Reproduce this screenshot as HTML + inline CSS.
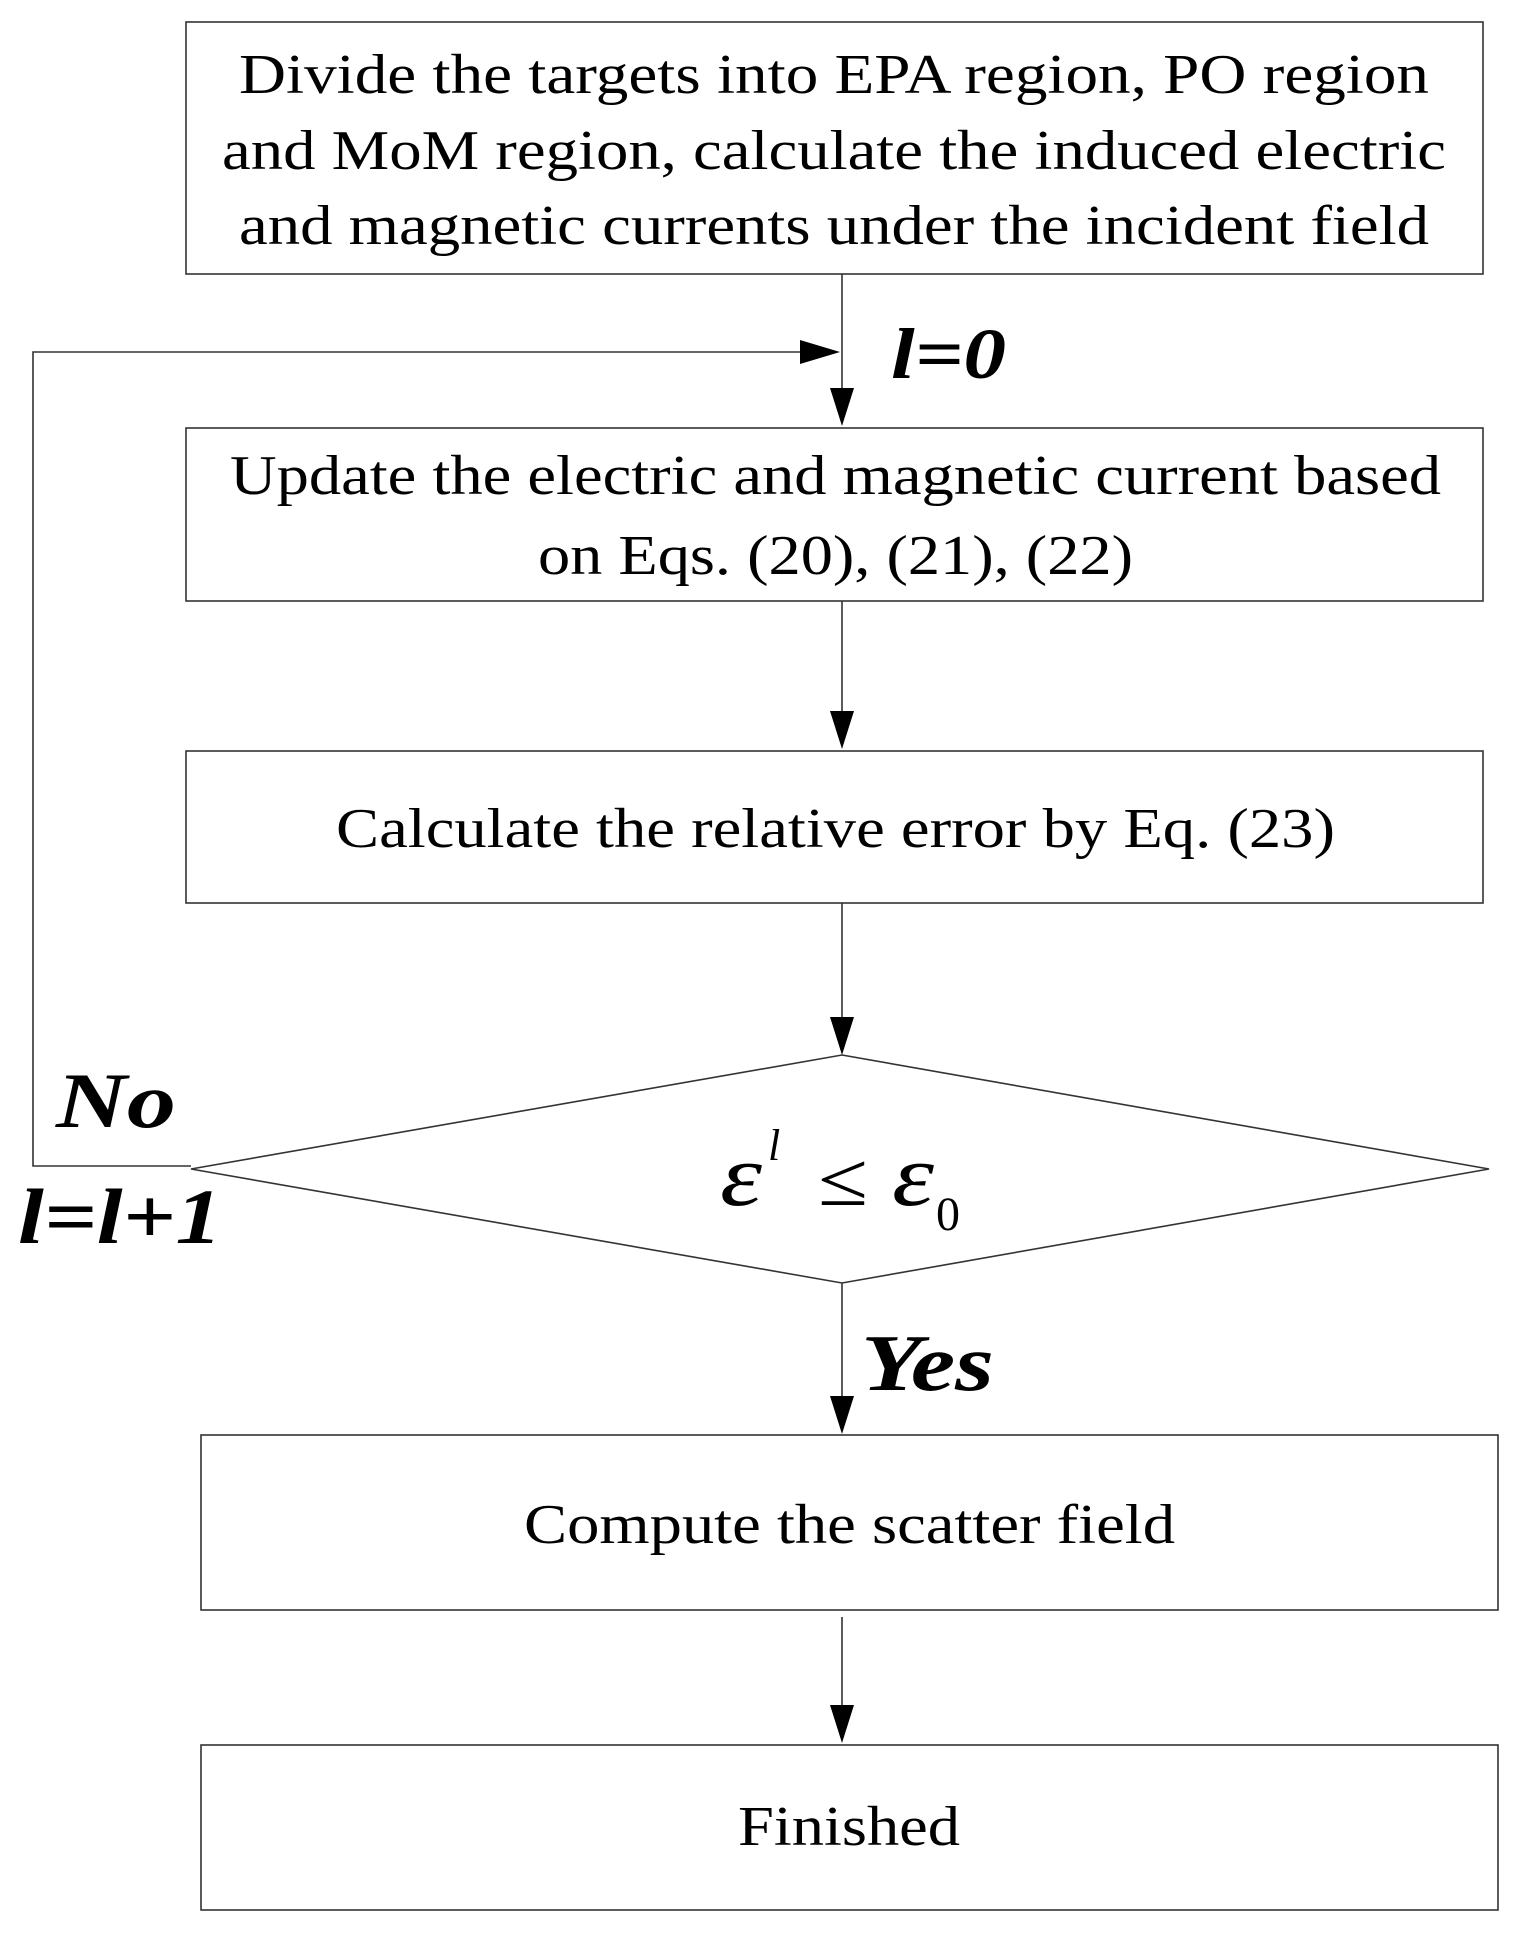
<!DOCTYPE html>
<html><head><meta charset="utf-8"><style>
html,body{margin:0;padding:0;background:#fff;}
svg{display:block;}
text{font-family:"Liberation Serif","DejaVu Serif",serif;fill:#000;}
</style></head><body>
<svg width="1530" height="1941" viewBox="0 0 1530 1941" xmlns="http://www.w3.org/2000/svg">
<g fill="none" stroke="#333" stroke-width="1.6">
<rect x="186" y="22" width="1297" height="252"/>
<rect x="186" y="428" width="1297" height="173"/>
<rect x="186" y="751" width="1297" height="152"/>
<rect x="201" y="1435" width="1297" height="175"/>
<rect x="201" y="1745" width="1297" height="165"/>
<polygon points="842,1055 1489,1169 842,1283 191,1169"/>
<line x1="842" y1="274" x2="842" y2="390"/>
<line x1="842" y1="601" x2="842" y2="712"/>
<line x1="842" y1="903" x2="842" y2="1018"/>
<line x1="842" y1="1283" x2="842" y2="1398"/>
<line x1="842" y1="1617" x2="842" y2="1706"/>
<polyline points="191,1166 33,1166 33,352 800,352"/>
</g>
<g fill="#000">
<polygon points="842,426 830,388 854,388"/>
<polygon points="842,749 830,711 854,711"/>
<polygon points="842,1055 830,1017 854,1017"/>
<polygon points="842,1434 830,1396 854,1396"/>
<polygon points="842,1743 830,1705 854,1705"/>
<polygon points="840,352 800,340 800,364"/>
</g>
<g font-size="56">
<text x="239" y="93" textLength="1190" lengthAdjust="spacingAndGlyphs">Divide the targets into EPA region, PO region</text>
<text x="222" y="169" textLength="1224" lengthAdjust="spacingAndGlyphs">and MoM region, calculate the induced electric</text>
<text x="239" y="244" textLength="1190" lengthAdjust="spacingAndGlyphs">and magnetic currents under the incident field</text>
<text x="230" y="494" textLength="1211" lengthAdjust="spacingAndGlyphs">Update the electric and magnetic current based</text>
<text x="538" y="574" textLength="595" lengthAdjust="spacingAndGlyphs">on Eqs. (20), (21), (22)</text>
<text x="336" y="847" textLength="999" lengthAdjust="spacingAndGlyphs">Calculate the relative error by Eq. (23)</text>
<text x="524" y="1543" textLength="651" lengthAdjust="spacingAndGlyphs">Compute the scatter field</text>
<text x="738" y="1845" textLength="222" lengthAdjust="spacingAndGlyphs">Finished</text>
</g>
<g font-weight="bold" font-style="italic">
<text x="891" y="378" font-size="72" textLength="115" lengthAdjust="spacingAndGlyphs">l=0</text>
<text x="56" y="1127" font-size="78" textLength="120" lengthAdjust="spacingAndGlyphs">No</text>
<text x="18" y="1243" font-size="78" textLength="204" lengthAdjust="spacingAndGlyphs">l=l+1</text>
<text x="861" y="1390" font-size="80" textLength="133" lengthAdjust="spacingAndGlyphs">Yes</text>
</g>
<g font-style="italic">
<text x="720" y="1205" font-size="88" textLength="42" lengthAdjust="spacingAndGlyphs">ε</text>
<text x="768" y="1160" font-size="44">l</text>
<text x="818" y="1205" font-style="normal" font-size="76" textLength="50" lengthAdjust="spacingAndGlyphs">≤</text>
<text x="892" y="1205" font-size="88" textLength="42" lengthAdjust="spacingAndGlyphs">ε</text>
<text x="936" y="1230" font-style="normal" font-size="48">0</text>
</g>
</svg>
</body></html>
